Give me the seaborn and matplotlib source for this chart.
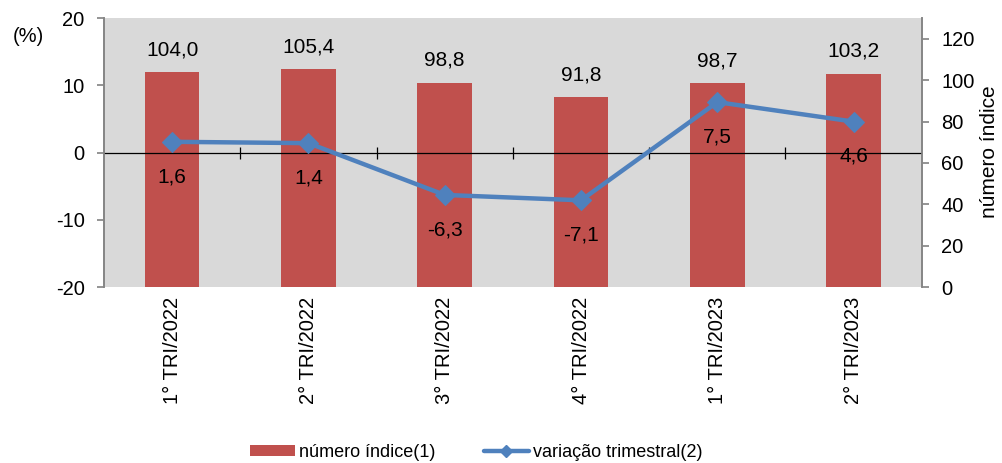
import pandas as pd
import matplotlib.pyplot as plt
import seaborn as sns
from matplotlib.patches import Patch
from matplotlib.lines import Line2D

# Dados
trimestres = ['1° TRI/2022', '2° TRI/2022', '3° TRI/2022', '4° TRI/2022', '1° TRI/2023', '2° TRI/2023']
numero_indice = [104.0, 105.4, 98.8, 91.8, 98.7, 103.2]
variacao = [1.6, 1.4, -6.3, -7.1, 7.5, 4.6]

df = pd.DataFrame({'trimestre': trimestres, 'indice': numero_indice, 'variacao': variacao})

sns.set_theme(style='white')
plt.rcParams['font.family'] = ['Liberation Sans', 'DejaVu Sans']
plt.rcParams['axes.unicode_minus'] = False
plt.rcParams['text.color'] = 'black'
plt.rcParams['axes.labelcolor'] = 'black'
plt.rcParams['xtick.labelcolor'] = 'black'
plt.rcParams['ytick.labelcolor'] = 'black'

cor_barra = '#C0504D'
cor_linha = '#4F81BD'
cinza = '#868686'

fig = plt.figure(figsize=(10.03, 4.63), dpi=100)
ax = fig.add_axes([0.1037, 0.380, 0.8153, 0.581])
ax.set_facecolor('#D9D9D9')

# Barras - número índice (eixo direito)
sns.barplot(data=df, x='trimestre', y='indice', color=cor_barra, width=0.40,
            saturation=1, linewidth=0, ax=ax)
ax.set_ylim(0, 130)
ax.set_yticks(range(0, 121, 20))
ax.set_xlabel('')
ax.set_ylabel('')
ax.set_xlim(-0.5, len(trimestres) - 0.5)

# Linha - variação trimestral (eixo esquerdo)
ax2 = ax.twinx()
ax2.axhline(0, color='black', lw=0.9, zorder=1)
ax2.vlines([i + 0.5 for i in range(len(trimestres) - 1)], -0.9, 0.9, color='black', lw=0.9)
sns.lineplot(data=df, x='trimestre', y='variacao', color=cor_linha, lw=3.2,
             marker='D', markersize=10, markeredgecolor=cor_linha, ax=ax2, zorder=3)
ax2.set_ylim(-20, 20)
ax2.set_yticks(range(-20, 21, 10))
ax2.set_ylabel('')
ax2.set_xlabel('')

# Posição dos eixos (depois do twinx)
ax.yaxis.set_ticks_position('right')
ax.tick_params(axis='y', left=False, labelleft=False, right=True, labelright=True,
               direction='out', length=5, color=cinza, labelsize=14.5, pad=9)
ax.tick_params(axis='x', length=0, rotation=90, labelsize=14.5, pad=7)
ax2.yaxis.set_ticks_position('left')
ax2.tick_params(axis='y', left=True, labelleft=True, right=False, labelright=False,
                direction='out', length=5, color=cinza, labelsize=14.5, pad=9)

for b, v in zip(ax.patches, numero_indice):
    ax.annotate(f'{v:.1f}'.replace('.', ','), (b.get_x() + b.get_width() / 2, b.get_height()),
                xytext=(0, 16), textcoords='offset points', ha='center', va='center',
                fontsize=15)
for i, v in enumerate(variacao):
    ax2.annotate(f'{v:.1f}'.replace('.', ','), (i, v), xytext=(0, -25),
                 textcoords='offset points', ha='center', va='center', fontsize=15)

for a in (ax, ax2):
    a.spines['top'].set_visible(False)
    a.spines['bottom'].set_visible(False)
    a.spines['left'].set_color(cinza)
    a.spines['right'].set_color(cinza)

fig.text(0.028, 0.922, '(%)', fontsize=14.5, ha='center', va='center')
fig.text(0.987, 0.672, 'número índice', fontsize=15, rotation=90, ha='center', va='center')

handles = [Patch(facecolor=cor_barra, edgecolor='none'),
           Line2D([], [], color=cor_linha, lw=3.2, marker='D', markersize=6)]
fig.legend(handles, ['número índice(1)', 'variação trimestral(2)'], loc='lower center',
           bbox_to_anchor=(0.4746, -0.03), ncol=2, frameon=False, fontsize=13,
           handlelength=2.5, handleheight=0.6, columnspacing=2.7, handletextpad=0.2)

plt.savefig('out.png', dpi=100)
